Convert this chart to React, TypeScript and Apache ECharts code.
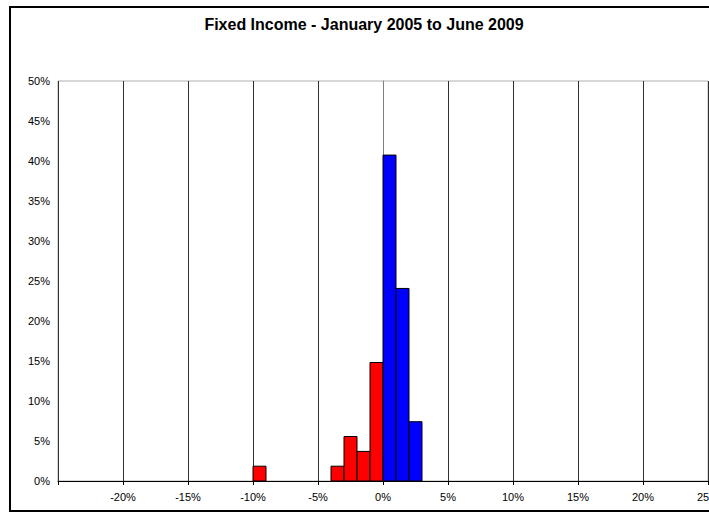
import React, { useEffect, useRef } from "react";
import * as echarts from "echarts";

const titleText = "Fixed Income - January 2005 to June 2009";
const binStarts = [-10, -4, -3, -2, -1, 0, 1, 2];
const binEnds = [-9, -3, -2, -1, 0, 1, 2, 3];
const frequencies = [1.85, 1.85, 5.56, 3.7, 14.81, 40.74, 24.07, 7.41];
const xTicks = [-25, -20, -15, -10, -5, 0, 5, 10, 15, 20, 25];
const yTicks = [0, 5, 10, 15, 20, 25, 30, 35, 40, 45, 50];

const FONT = 'Arial, "Liberation Sans", sans-serif';

export default function App() {
  const ref = useRef<HTMLDivElement>(null);
  useEffect(() => {
    if (!ref.current) return;
    const chart = echarts.init(ref.current, undefined, { renderer: "svg" });
    const data = binStarts.map((s, i) => [s, binEnds[i], frequencies[i]]);
    chart.setOption({
      animation: false,
      backgroundColor: "#ffffff",
      textStyle: { fontFamily: FONT },
      graphic: [
        {
          type: "polyline",
          shape: { points: [[760, 7], [10, 7], [10, 511], [760, 511]] },
          style: { fill: "none", stroke: "#000", lineWidth: 2 },
          z: 0,
          silent: true,
        },
        {
          type: "text",
          x: 364,
          y: 24,
          style: {
            text: titleText,
            fontFamily: FONT,
            fontSize: 16,
            fontWeight: "bold",
            fill: "#000",
            textAlign: "center",
            textVerticalAlign: "middle",
          },
        },
      ],
      grid: {
        left: 58,
        top: 81,
        width: 650,
        height: 400,
        show: true,
        borderColor: "#b0b0b0",
        borderWidth: 1,
        backgroundColor: "#ffffff",
        containLabel: false,
        outerBoundsMode: "none",
      },
      xAxis: {
        type: "value",
        min: xTicks[0],
        max: xTicks[xTicks.length - 1],
        interval: 5,
        axisLine: { show: true, onZero: false, lineStyle: { color: "#000", width: 1 } },
        axisTick: { show: true, length: 4, lineStyle: { color: "#000" } },
        splitLine: { show: true, lineStyle: { color: "#303030", width: 1 } },
        axisLabel: {
          color: "#000",
          fontSize: 11,
          fontFamily: FONT,
          margin: 10,
          hideOverlap: false,
          showMaxLabel: true,
          formatter: (v: number) => (v === xTicks[0] ? "" : `${v}%`),
        },
      },
      yAxis: {
        type: "value",
        min: yTicks[0],
        max: yTicks[yTicks.length - 1],
        interval: 5,
        axisLine: { show: true, lineStyle: { color: "#808080", width: 1 } },
        axisTick: { show: false },
        splitLine: { show: false },
        axisLabel: {
          color: "#000",
          fontSize: 11,
          fontFamily: FONT,
          margin: 8,
          formatter: (v: number) => `${v}%`,
        },
      },
      series: [
        {
          type: "custom",
          data,
          encode: { x: [0, 1], y: 2 },
          renderItem: (params: any, api: any) => {
            const x0 = api.value(0);
            const x1 = api.value(1);
            const y = api.value(2);
            const p0 = api.coord([x0, y]);
            const p1 = api.coord([x1, 0]);
            return {
              type: "rect",
              shape: { x: p0[0], y: p0[1], width: p1[0] - p0[0], height: p1[1] - p0[1] },
              style: { fill: x0 < 0 ? "#ff0000" : "#0000ff", stroke: "#000", lineWidth: 1 },
            };
          },
          z: 3,
        },
      ],
    });
    return () => chart.dispose();
  }, []);
  return (
    <div
      ref={ref}
      style={{ position: "fixed", left: 0, top: 0, width: 709, height: 513, background: "#fff" }}
    />
  );
}
